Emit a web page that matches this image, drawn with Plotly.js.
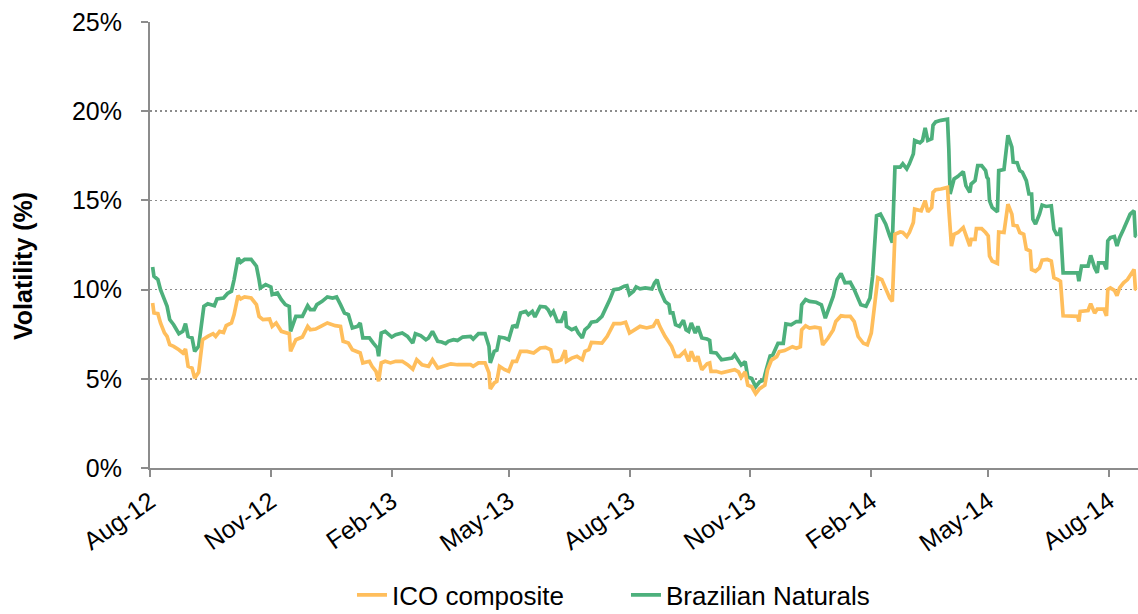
<!DOCTYPE html>
<html>
<head>
<meta charset="utf-8">
<script src="https://cdn.plot.ly/plotly-3.0.1.min.js"></script>
<style>html,body{margin:0;padding:0;background:#fff;}#chart{width:1138px;height:614px;}</style>
</head>
<body>
<div id="chart"></div>
<script>
// Days counted from the start date of the series (2012-08-01)
const startDate = '2012-08-01';
const seriesNames = ['ICO composite', 'Brazilian Naturals'];
const yTitle = 'Volatility (%)';
const xTickLabels = ['Aug-12','Nov-12','Feb-13','May-13','Aug-13','Nov-13','Feb-14','May-14','Aug-14'];
const xTickDates = ['2012-08-01','2012-11-01','2013-02-01','2013-05-01','2013-08-01','2013-11-01','2014-02-01','2014-05-01','2014-08-01'];
const yTicks = [0, 5, 10, 15, 20, 25];

const icoDays = [2,3,6,8,11,13,15,18,22,25,27,29,32,34,37,40,44,48,50,53,56,58,62,64,67,69,72,77,81,83,86,91,93,96,100,106,107,111,116,120,122,126,130,135,141,145,147,
151,154,158,160,162,167,169,172,174,176,179,183,187,192,196,200,203,207,212,215,219,224,229,234,244,246,250,255,258,259,262,264,266,270,273,276,279,282,287,292,297,
301,305,307,310,313,316,317,321,325,329,331,334,336,340,344,348,350,353,358,362,365,369,373,378,383,386,388,392,395,397,400,403,407,410,412,415,417,420,424,426,427,431,435,440,445,
448,450,453,455,458,461,464,468,470,473,477,479,483,486,489,492,495,496,499,502,506,510,512,516,520,522,526,529,533,536,539,543,546,549,552,554,557,560,563,565,567,571,573,576,578,581,582,587,588,590,
592,595,596,598,602,607,608,610,612,615,619,621,624,625,628,629,633,636,638,639,641,645,646,650,653,656,657,660,662,665,667,670,671,674,677,679,683,686,688,691,693,695,701,706,707,708,714,716,719,721,726,728,729,731,734,736,738,741,744,747,749,750,751];
const icoVol = [9.25,8.69,8.65,8.13,7.57,7.38,6.91,6.82,6.63,6.45,6.67,5.70,5.60,5.04,5.36,7.19,7.38,7.53,7.38,7.66,7.60,7.98,8.13,8.60,9.66,9.48,9.59,9.53,9.16,8.50,8.32,8.35,7.94,8.13,7.66,7.53,6.54,7.19,7.34,7.94,7.75,7.79,7.94,8.13,7.98,7.94,7.10,
7.00,6.63,6.54,6.45,5.89,5.98,5.70,5.42,4.86,5.89,5.98,5.89,5.98,5.98,5.79,5.54,6.07,5.79,5.70,6.07,5.60,5.70,5.84,5.79,5.79,5.70,5.89,5.89,5.33,4.43,4.77,4.86,5.70,5.51,5.42,5.98,5.98,6.54,6.54,6.45,6.73,
6.76,6.63,5.98,5.98,6.07,6.60,5.98,6.16,6.26,6.07,6.54,6.63,7.04,7.04,7.00,7.38,7.66,8.09,8.09,8.17,7.57,7.75,7.94,7.85,7.94,8.32,7.94,7.38,7.00,6.82,6.26,6.26,6.54,5.98,6.54,5.98,6.26,5.51,5.84,5.89,5.42,5.42,5.33,5.42,5.51,
5.39,5.08,5.39,4.64,4.55,4.17,4.45,4.64,5.49,6.05,6.24,6.52,6.58,6.71,6.80,6.71,6.80,7.74,7.97,7.84,7.89,7.84,6.90,7.27,7.74,8.21,8.53,8.50,8.50,8.21,7.37,6.99,6.90,7.56,9.34,10.66,10.56,10.00,9.53,9.34,13.10,13.23,13.20,12.97,13.20,13.76,14.51,14.42,14.61,14.98,
14.36,14.61,15.45,15.60,15.64,15.73,14.51,12.44,13.10,13.20,13.48,13.01,12.44,12.82,12.82,13.42,13.42,13.20,13.01,11.88,11.60,11.47,13.23,13.20,14.79,14.23,13.61,13.57,13.20,13.10,12.26,12.16,11.13,11.03,11.22,11.65,11.69,11.60,10.66,10.56,10.47,8.53,8.53,8.50,8.21,8.78,8.83,9.21,8.68,8.91,8.91,8.53,10.00,10.09,9.96,9.66,10.09,10.38,10.56,10.90,11.13,10.04,10.00];

const bnDays = [2,3,6,8,11,13,15,18,22,25,27,29,32,34,37,41,44,49,51,56,59,62,64,67,69,72,77,81,83,84,88,92,93,97,100,103,106,107,111,116,120,122,125,127,131,135,139,142,145,148,
151,154,158,160,162,167,170,173,174,176,179,182,184,187,192,196,200,202,206,210,212,215,219,222,225,227,231,234,238,244,246,250,255,258,259,262,264,266,270,273,276,278,279,282,286,288,291,293,296,297,
301,303,305,307,310,313,316,317,321,324,326,329,331,334,336,340,344,348,350,353,357,361,363,365,368,370,373,377,382,384,386,388,392,395,396,398,400,403,406,408,410,412,415,417,420,424,426,427,431,435,439,443,445,
448,450,453,455,458,461,464,467,469,472,474,478,482,484,488,492,495,496,499,502,507,511,514,517,520,523,526,529,533,536,539,541,545,548,550,553,556,558,560,563,565,567,571,573,576,578,581,582,586,588,590,
592,595,596,598,602,607,608,609,612,615,619,621,624,625,628,630,633,636,637,638,639,641,645,646,650,653,656,657,660,662,664,667,669,671,672,674,677,679,682,686,688,690,692,693,695,701,706,707,709,714,716,719,721,722,726,728,729,731,734,736,738,741,744,746,749,750,751];
const bnVol = [11.27,10.75,10.56,10.00,9.44,9.06,8.32,8.03,7.53,7.66,8.09,7.38,7.29,6.54,6.82,9.06,9.21,9.10,9.48,9.53,9.78,9.91,10.56,11.78,11.53,11.69,11.69,11.31,10.56,10.09,10.28,10.15,9.72,9.81,9.44,9.16,9.06,7.66,8.50,8.50,9.10,8.88,8.88,9.16,9.34,9.59,9.53,9.59,9.16,8.69,
8.60,7.85,7.94,8.13,7.29,7.29,7.00,6.73,6.26,7.57,7.66,7.47,7.34,7.47,7.57,7.38,7.00,7.53,7.42,7.19,7.29,7.66,7.10,7.06,6.97,7.10,7.19,7.15,7.34,7.38,7.23,7.53,7.53,6.82,5.89,6.54,6.60,7.34,7.29,7.19,7.94,7.98,7.85,8.69,8.78,8.60,8.78,8.47,8.97,9.06,
9.03,8.88,8.60,8.78,8.22,8.22,8.78,7.94,7.75,7.85,7.57,7.29,7.75,7.94,8.17,8.22,8.50,9.10,9.44,10.00,10.04,10.19,10.22,9.72,9.91,10.15,10.04,10.09,10.04,10.37,10.56,10.00,9.34,9.16,8.69,8.69,8.03,7.94,8.28,7.75,7.66,8.13,7.57,7.94,7.29,7.23,7.15,6.48,6.45,6.07,6.11,6.16,6.35,
6.05,5.77,5.96,5.11,5.02,4.55,4.83,4.92,5.49,6.28,6.33,6.99,6.99,8.08,8.03,8.21,8.21,9.15,9.44,9.34,9.29,9.15,8.40,8.97,9.62,10.56,10.90,10.38,10.41,10.00,9.53,9.15,9.06,9.53,10.75,14.14,14.23,13.95,13.67,13.01,12.63,16.86,16.86,17.05,16.77,17.05,17.61,18.36,18.23,18.36,19.06,
18.36,18.46,19.21,19.40,19.49,19.55,17.89,15.36,16.20,16.35,16.62,15.83,15.45,15.92,16.11,16.95,16.95,16.67,16.30,16.20,14.98,14.61,14.36,16.67,16.73,18.65,17.99,17.14,17.11,16.67,16.58,16.11,15.36,15.36,13.95,13.67,14.23,14.74,14.66,14.70,13.38,13.10,13.10,13.48,10.94,10.94,10.94,10.47,11.32,11.32,11.92,11.22,10.94,11.50,11.50,11.13,12.73,12.91,12.97,12.44,12.91,13.38,13.85,14.23,14.42,13.01,12.97];

const rangeEndDay = 752;

function dayToDate(d) {
  const t = Date.parse(startDate + 'T00:00:00Z') + d * 86400000;
  return new Date(t).toISOString().slice(0, 10);
}

const FONT = 'Liberation Sans, Arial, sans-serif';

const traces = [
  {
    x: bnDays.map(dayToDate), y: bnVol, name: seriesNames[1], type: 'scatter', mode: 'lines',
    line: {color: '#4DB07C', width: 3.7}, legendrank: 2
  },
  {
    x: icoDays.map(dayToDate), y: icoVol, name: seriesNames[0], type: 'scatter', mode: 'lines',
    line: {color: '#FFBE5C', width: 3.7}, legendrank: 1
  }
];

const layout = {
  width: 1138, height: 614,
  margin: {l: 150, r: 0, t: 22, b: 146},
  paper_bgcolor: '#fff', plot_bgcolor: '#fff',
  font: {family: FONT, color: '#000'},
  showlegend: true,
  legend: {
    orientation: 'h', xref: 'container', yref: 'container',
    x: 0.3093, xanchor: 'left', y: 0.031, yanchor: 'middle',
    font: {family: FONT, size: 26, color: '#000'}, traceorder: 'normal',
    entrywidth: 229, entrywidthmode: 'pixels',
    bgcolor: 'rgba(0,0,0,0)', borderwidth: 0
  },
  annotations: [{
    text: '<b>' + yTitle + '</b>', textangle: -90,
    xref: 'paper', yref: 'paper', x: -0.1285, y: 0.453,
    xanchor: 'center', yanchor: 'middle', showarrow: false,
    font: {family: FONT, size: 25, color: '#000'}
  }],
  xaxis: {
    type: 'date',
    range: [startDate, dayToDate(rangeEndDay)],
    tickvals: xTickDates, ticktext: xTickLabels,
    tickangle: -35,
    tickfont: {family: FONT, size: 25, color: '#000'},
    ticks: 'outside', ticklen: 7, tickwidth: 2, tickcolor: '#8c8c8c',
    showline: true, linecolor: '#8c8c8c', linewidth: 2,
    showgrid: false, zeroline: false, fixedrange: true, automargin: false
  },
  yaxis: {
    range: [0, 25],
    tickvals: yTicks, ticktext: yTicks.map(v => v + '%'),
    tickfont: {family: FONT, size: 25, color: '#000'},
    ticks: 'outside', ticklen: 7, tickwidth: 2, tickcolor: '#8c8c8c',
    ticklabelstandoff: 14,
    showline: true, linecolor: '#8c8c8c', linewidth: 2,
    showgrid: true, gridcolor: '#8c8c8c', gridwidth: 1.5, griddash: '2px,3px',
    zeroline: false, fixedrange: true, automargin: false
  }
};

Plotly.newPlot('chart', traces, layout, {staticPlot: true, displayModeBar: false});
</script>
</body>
</html>
